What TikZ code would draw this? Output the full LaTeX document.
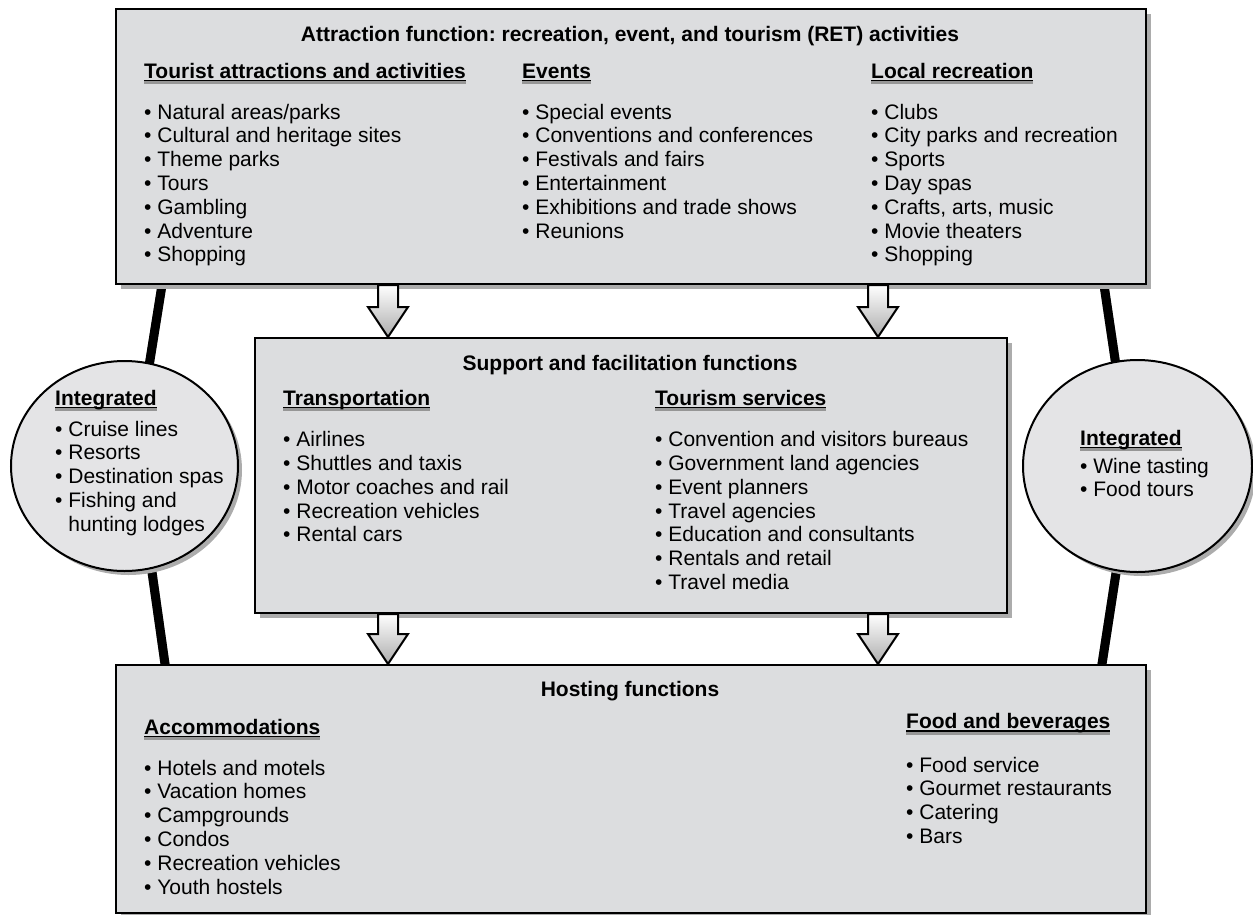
\documentclass[tikz,border=0pt]{standalone}
\usepackage{fontspec}
\setmainfont{Liberation Sans}
\usetikzlibrary{shapes.geometric,shadows,calc,backgrounds}
\frenchspacing

\definecolor{boxfill}{RGB}{220,221,223}
\definecolor{ringfill}{RGB}{228,228,230}
\definecolor{shadowgray}{RGB}{172,172,172}
\definecolor{rulegray}{RGB}{150,150,150}

% bold heading with a black underline and a grey band beneath it
\newsavebox\hdbox
\newcommand\hd[1]{\sbox\hdbox{\bfseries #1}\leavevmode
  \rlap{\textcolor{rulegray}{\rule[-6.2pt]{\wd\hdbox}{3.2pt}}}%
  \rlap{\rule[-3.2pt]{\wd\hdbox}{1.5pt}}\usebox\hdbox}
% bulleted list, aligned on the baseline of its first line
\newcommand\itemlist[1]{\begin{tabular}[t]{@{}l@{}}#1\end{tabular}}
\newcommand\ind{\hphantom{•\ }}

% block arrow from a point on one box down to a tip on the next
\newcommand\blockarrow[2]{%
  \draw[barrow] ($(#1)+(-10,0)$) -- ($(#2)+(-10,-30)$) -- ($(#2)+(-20,-30)$)
    -- (#2) -- ($(#2)+(20,-30)$) -- ($(#2)+(10,-30)$) -- ($(#1)+(10,0)$) -- cycle;}

\tikzset{
  panel/.style={draw=black, line width=2pt, fill=boxfill, rectangle, anchor=north west,
    inner sep=0pt,
    general shadow={fill=shadowgray, shadow xshift=5pt, shadow yshift=-5pt}},
  ring/.style={draw=black, line width=2pt, fill=ringfill, ellipse, inner sep=0pt,
    general shadow={fill=shadowgray, shadow xshift=4pt, shadow yshift=-4pt}},
  txt/.style={anchor=base west, inner sep=0pt, font=\fontsize{21}{23.8}\selectfont},
  ttl/.style={anchor=base, inner sep=0pt, font=\fontsize{21}{23.8}\selectfont\bfseries},
  conn/.style={line width=9pt, shorten <=-10pt, shorten >=-10pt},
  connshade/.style={conn, shadowgray, xshift=5pt},
  barrow/.style={draw=black, line width=2pt, line join=miter, top color=white, bottom color=gray!65},
}

\begin{document}
\begin{tikzpicture}[x=1pt, y=-1pt]
\useasboundingbox (0,0) rectangle (1253,914);

% ---- three function panels ----
\node[panel, minimum width=1030pt, minimum height=275pt] (attr) at (115,8) {};
\node[panel, minimum width=752pt, minimum height=275pt] (supp) at (254,337) {};
\node[panel, minimum width=1030pt, minimum height=248pt] (host) at (115,664) {};

% ---- integrated ovals ----
\node[ring, minimum width=227pt, minimum height=210pt] (lring) at (124.5,466) {};
\node[ring, minimum width=229pt, minimum height=212pt] (rring) at (1137.5,466) {};

% ---- thick links between panels and ovals ----
\begin{pgfonlayer}{background}
  \draw[connshade] ($(attr.south west)+(47,0)$) -- ($(lring.north)+(25.5,0)$);
  \draw[connshade] ($(lring.south)+(27.5,0)$) -- ($(host.north west)+(50,0)$);
  \draw[connshade] ($(attr.south east)+(-43,0)$) -- ($(rring.north)+(-22.5,0)$);
  \draw[connshade] ($(rring.south)+(-21.5,0)$) -- ($(host.north east)+(-45,0)$);
  \draw[conn] ($(attr.south west)+(47,0)$) -- ($(lring.north)+(25.5,0)$);
  \draw[conn] ($(lring.south)+(27.5,0)$) -- ($(host.north west)+(50,0)$);
  \draw[conn] ($(attr.south east)+(-43,0)$) -- ($(rring.north)+(-22.5,0)$);
  \draw[conn] ($(rring.south)+(-21.5,0)$) -- ($(host.north east)+(-45,0)$);
\end{pgfonlayer}

% ---- block arrows ----
\coordinate (a1s) at ($(attr.south west)+(273,0)$);
\coordinate (a1t) at ($(supp.north west)+(134,0)$);
\coordinate (a2s) at ($(attr.south west)+(763,0)$);
\coordinate (a2t) at ($(supp.north west)+(624,0)$);
\coordinate (a3s) at ($(supp.south west)+(134,0)$);
\coordinate (a3t) at ($(host.north west)+(273,0)$);
\coordinate (a4s) at ($(supp.south west)+(624,0)$);
\coordinate (a4t) at ($(host.north west)+(763,0)$);
\blockarrow{a1s}{a1t}
\blockarrow{a2s}{a2t}
\blockarrow{a3s}{a3t}
\blockarrow{a4s}{a4t}

% ---- attraction panel text ----
\node[ttl] (attrtitle) at (630,41.7) {Attraction function: recreation, event, and tourism (RET) activities};
\node[txt] (h1) at (144,78) {\hd{Tourist attractions and activities}};
\node[txt] (l1) at (144,119) {\itemlist{• Natural areas/parks\\ • Cultural and heritage sites\\ • Theme parks\\ • Tours\\ • Gambling\\ • Adventure\\ • Shopping}};
\node[txt] (h2) at (522,78) {\hd{Events}};
\node[txt] (l2) at (522,119) {\itemlist{• Special events\\ • Conventions and conferences\\ • Festivals and fairs\\ • Entertainment\\ • Exhibitions and trade shows\\ • Reunions}};
\node[txt] (h3) at (871,78) {\hd{Local recreation}};
\node[txt] (l3) at (871,119) {\itemlist{• Clubs\\ • City parks and recreation\\ • Sports\\ • Day spas\\ • Crafts, arts, music\\ • Movie theaters\\ • Shopping}};

% ---- support panel text ----
\node[ttl] (supptitle) at (630,370) {Support and facilitation functions};
\node[txt] (h4) at (283,405) {\hd{Transportation}};
\node[txt] (l4) at (283,446.7) {\itemlist{• Airlines\\ • Shuttles and taxis\\ • Motor coaches and rail\\ • Recreation vehicles\\ • Rental cars}};
\node[txt] (h5) at (655,405) {\hd{Tourism services}};
\node[txt] (l5) at (655,446.7) {\itemlist{• Convention and visitors bureaus\\ • Government land agencies\\ • Event planners\\ • Travel agencies\\ • Education and consultants\\ • Rentals and retail\\ • Travel media}};

% ---- hosting panel text ----
\node[ttl] (hosttitle) at (630,696.5) {Hosting functions};
\node[txt] (h6) at (144,734) {\hd{Accommodations}};
\node[txt] (l6) at (144,775) {\itemlist{• Hotels and motels\\ • Vacation homes\\ • Campgrounds\\ • Condos\\ • Recreation vehicles\\ • Youth hostels}};
\node[txt] (h7) at (906,728.5) {\hd{Food and beverages}};
\node[txt] (l7) at (906,772) {\itemlist{• Food service\\ • Gourmet restaurants\\ • Catering\\ • Bars}};

% ---- oval text ----
\node[txt] (h8) at (55,405) {\hd{Integrated}};
\node[txt] (l8) at (55,436) {\itemlist{• Cruise lines\\ • Resorts\\ • Destination spas\\ • Fishing and\\ \ind hunting lodges}};
\node[txt] (h9) at (1080,445) {\hd{Integrated}};
\node[txt] (l9) at (1080,473) {\itemlist{• Wine tasting\\ • Food tours}};
\end{tikzpicture}
\end{document}
